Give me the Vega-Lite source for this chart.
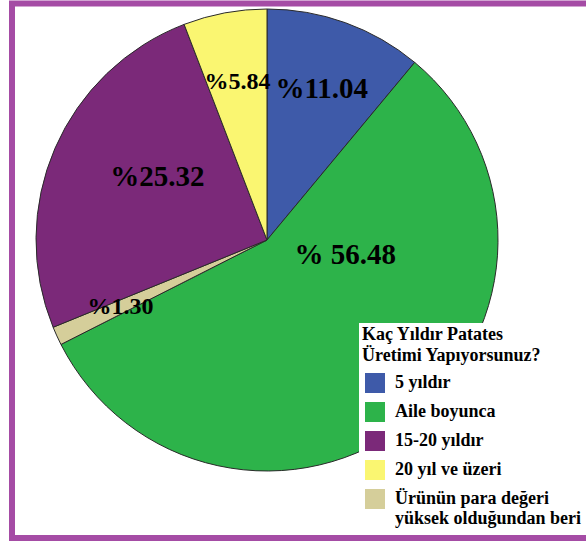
{
  "$schema": "https://vega.github.io/schema/vega-lite/v6.json",
  "width": 584,
  "height": 534.5,
  "autosize": {"type": "none"},
  "padding": {"left": 12, "top": 3.5, "right": -10, "bottom": 5},
  "background": "white",
  "view": {"stroke": "#A54CA5", "strokeWidth": 6, "fill": "white"},
  "data": {
    "values": [
      {"cat": "5 yıldır", "pct": 11.04, "ord": 1, "label": "%11.04"},
      {"cat": "Aile boyunca", "pct": 56.48, "ord": 2, "label": "% 56.48"},
      {"cat": "Ürünün para değeri yüksek olduğundan beri", "pct": 1.30, "ord": 3, "label": "%1.30"},
      {"cat": "15-20 yıldır", "pct": 25.32, "ord": 4, "label": "%25.32"},
      {"cat": "20 yıl ve üzeri", "pct": 5.84, "ord": 5, "label": "%5.84"}
    ]
  },
  "encoding": {
    "theta": {"field": "pct", "type": "quantitative", "stack": true},
    "order": {"field": "ord", "type": "quantitative"}
  },
  "layer": [
    {
      "mark": {"type": "arc", "x": 255, "y": 236.5, "outerRadius": 231, "stroke": "#2a2a2a", "strokeWidth": 1},
      "encoding": {
        "color": {
          "field": "cat",
          "type": "nominal",
          "scale": {
            "domain": ["5 yıldır", "Aile boyunca", "15-20 yıldır", "20 yıl ve üzeri", "Ürünün para değeri yüksek olduğundan beri"],
            "range": ["#3E5AA9", "#2DB34A", "#7B2979", "#FAF671", "#D5CE9A"]
          },
          "legend": {
            "title": ["Kaç Yıldır Patates", "Üretimi Yapıyorsunuz?"],
            "orient": "none",
            "legendX": 347,
            "legendY": 319.5,
            "padding": 3,
            "fillColor": "white",
            "titleFont": "Liberation Serif",
            "titleFontSize": 18,
            "titleFontWeight": "bold",
            "titleColor": "black",
            "titleLineHeight": 21,
            "titlePadding": 8,
            "titleLimit": 400,
            "labelFont": "Liberation Serif",
            "labelFontSize": 18,
            "labelFontWeight": "bold",
            "labelColor": "black",
            "labelLimit": 400,
            "labelOffset": 10,
            "labelLineHeight": 22,
            "labelExpr": "datum.label == 'Ürünün para değeri yüksek olduğundan beri' ? ['Ürünün para değeri', 'yüksek olduğundan beri'] : datum.label",
            "symbolType": "square",
            "symbolSize": 400,
            "symbolStrokeWidth": 0,
            "symbolOffset": 3,
            "rowPadding": 9
          }
        }
      }
    },
    {
      "mark": {"type": "text", "x": 255, "y": 236.5, "radius": 161, "font": "Liberation Serif", "fontWeight": "bold", "color": "black", "align": "center", "baseline": "middle"},
      "encoding": {
        "text": {"condition": {"test": "datum.ord == 1 || datum.ord == 3 || datum.ord == 5", "field": "label"}, "value": ""},
        "size": {"condition": {"test": "datum.ord == 1", "value": 29}, "value": 24}
      }
    },
    {
      "mark": {"type": "text", "x": 255, "y": 236.5, "radius": 126, "dx": 6, "dy": -13, "font": "Liberation Serif", "fontWeight": "bold", "color": "black", "fontSize": 29, "align": "center", "baseline": "middle"},
      "encoding": {
        "text": {"condition": {"test": "datum.ord == 4", "field": "label"}, "value": ""}
      }
    },
    {
      "mark": {"type": "text", "x": 255, "y": 236.5, "radius": 79, "dx": 29, "dy": -47, "font": "Liberation Serif", "fontWeight": "bold", "color": "black", "fontSize": 29, "align": "center", "baseline": "middle"},
      "encoding": {
        "text": {"condition": {"test": "datum.ord == 2", "field": "label"}, "value": ""}
      }
    }
  ]
}
